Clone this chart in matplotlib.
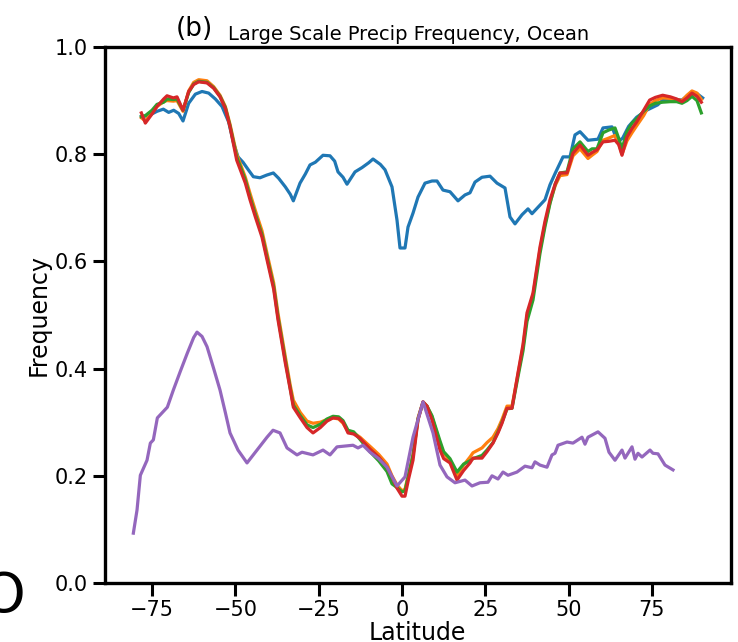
import matplotlib.pyplot as plt

plt.rcParams['font.family'] = ['DejaVu Sans']

# latitude grid used by the four model curves (blue has its own)
lat_mod = [-78.2, -77.0, -75.0, -73.5, -71.5, -70.5, -68.6, -67.5, -65.7, -64.0,
           -62.5, -61.0, -58.5, -56.5, -54.6, -53.0, -51.6, -49.6, -47.0, -45.6,
           -44.0, -42.0, -40.5, -38.5, -37.2, -35.0, -33.5, -32.6, -30.5, -28.5,
           -26.7, -24.5, -22.5, -20.7, -19.0, -17.7, -16.2, -14.5, -12.6, -9.6,
           -7.0, -4.5, -3.0, -1.5, 0.0, 0.9, 2.0, 3.3, 4.8, 6.3,
           7.5, 9.0, 11.4, 12.5, 14.4, 16.5, 18.5, 20.4, 21.3, 24.0,
           25.5, 27.3, 28.8, 30.0, 31.5, 33.0, 34.8, 36.3, 37.5, 39.3,
           41.4, 42.9, 44.4, 46.0, 47.4, 49.5, 51.3, 53.4, 55.8, 57.0,
           58.5, 60.3, 62.0, 63.9, 65.0, 66.0, 67.5, 69.0, 70.4, 72.5,
           74.3, 76.0, 78.2, 80.5, 82.4, 84.0, 85.5, 87.0, 88.5, 89.8]

red = [0.877, 0.858, 0.875, 0.889, 0.903, 0.909, 0.905, 0.907, 0.882, 0.917,
       0.930, 0.935, 0.933, 0.923, 0.907, 0.885, 0.851, 0.789, 0.746, 0.715,
       0.683, 0.645, 0.603, 0.548, 0.491, 0.410, 0.360, 0.328, 0.308, 0.290,
       0.280, 0.290, 0.302, 0.308, 0.307, 0.300, 0.280, 0.278, 0.270, 0.250,
       0.235, 0.216, 0.198, 0.177, 0.162, 0.162, 0.195, 0.229, 0.304, 0.338,
       0.330, 0.304, 0.248, 0.232, 0.224, 0.192, 0.210, 0.224, 0.233, 0.233,
       0.245, 0.261, 0.280, 0.298, 0.326, 0.326, 0.392, 0.445, 0.504, 0.541,
       0.627, 0.675, 0.715, 0.745, 0.765, 0.765, 0.802, 0.817, 0.798, 0.803,
       0.808, 0.823, 0.824, 0.826, 0.818, 0.798, 0.832, 0.848, 0.860, 0.882,
       0.901, 0.906, 0.910, 0.907, 0.903, 0.898, 0.905, 0.914, 0.908, 0.897]

orange = [0.868, 0.862, 0.878, 0.889, 0.898, 0.900, 0.899, 0.900, 0.880, 0.918,
          0.934, 0.939, 0.937, 0.926, 0.910, 0.889, 0.856, 0.800, 0.757, 0.727,
          0.695, 0.657, 0.615, 0.560, 0.503, 0.422, 0.368, 0.341, 0.318, 0.302,
          0.298, 0.300, 0.305, 0.308, 0.306, 0.298, 0.283, 0.280, 0.272, 0.255,
          0.240, 0.222, 0.200, 0.183, 0.172, 0.175, 0.205, 0.240, 0.308, 0.338,
          0.330, 0.310, 0.260, 0.242, 0.228, 0.200, 0.220, 0.235, 0.243, 0.252,
          0.262, 0.272, 0.288, 0.305, 0.330, 0.330, 0.390, 0.440, 0.498, 0.537,
          0.622, 0.670, 0.710, 0.742, 0.760, 0.762, 0.797, 0.810, 0.792, 0.798,
          0.805, 0.826, 0.830, 0.835, 0.820, 0.800, 0.825, 0.840, 0.853, 0.872,
          0.893, 0.900, 0.905, 0.904, 0.902, 0.900, 0.910, 0.918, 0.914, 0.902]

green = [0.870, 0.872, 0.882, 0.893, 0.897, 0.903, 0.902, 0.903, 0.882, 0.915,
         0.931, 0.936, 0.934, 0.924, 0.908, 0.887, 0.853, 0.795, 0.752, 0.720,
         0.688, 0.650, 0.608, 0.553, 0.496, 0.415, 0.362, 0.332, 0.312, 0.295,
         0.290, 0.296, 0.306, 0.311, 0.310, 0.303, 0.285, 0.282, 0.268, 0.245,
         0.228, 0.208, 0.185, 0.178, 0.170, 0.172, 0.202, 0.238, 0.306, 0.337,
         0.330, 0.312, 0.265, 0.245, 0.232, 0.207, 0.222, 0.228, 0.232, 0.238,
         0.248, 0.262, 0.282, 0.300, 0.325, 0.326, 0.385, 0.433, 0.488, 0.528,
         0.615, 0.665, 0.708, 0.745, 0.765, 0.767, 0.810, 0.823, 0.805, 0.810,
         0.810, 0.840, 0.845, 0.849, 0.830, 0.810, 0.842, 0.858, 0.866, 0.880,
         0.890, 0.895, 0.897, 0.898, 0.898, 0.895, 0.900, 0.908, 0.900, 0.877]

lat_blue = [-78.2, -76.0, -73.5, -71.6, -70.0, -68.5, -67.0, -65.7, -64.0, -62.0,
            -60.0, -58.0, -56.0, -54.0, -52.0, -50.5, -49.2, -47.7, -46.0, -44.6,
            -42.6, -40.6, -38.6, -37.0, -35.0, -33.5, -32.6, -30.6, -29.0, -27.6,
            -26.0, -23.7, -21.6, -20.2, -19.2, -17.7, -16.5, -14.1, -12.0, -10.0,
            -8.7, -6.5, -5.1, -3.0, -1.5, -0.6, 0.9, 1.8, 3.3, 4.8,
            6.9, 9.0, 10.5, 12.3, 14.4, 16.8, 18.9, 20.4, 21.9, 24.0,
            26.4, 28.5, 30.9, 32.4, 33.9, 36.0, 37.8, 39.0, 40.8, 42.9,
            44.4, 46.0, 48.3, 50.4, 51.9, 53.4, 55.8, 58.8, 60.3, 63.0,
            64.7, 66.2, 68.0, 70.4, 73.4, 76.7, 78.2, 81.0, 84.0, 87.0,
            88.5, 90.2]

blue = [0.870, 0.872, 0.880, 0.884, 0.878, 0.882, 0.876, 0.862, 0.895, 0.912,
        0.917, 0.914, 0.903, 0.889, 0.860, 0.820, 0.795, 0.785, 0.770, 0.758,
        0.756, 0.761, 0.765, 0.755, 0.739, 0.725, 0.713, 0.746, 0.763, 0.780,
        0.785, 0.798, 0.797, 0.787, 0.767, 0.757, 0.744, 0.767, 0.775, 0.784,
        0.791, 0.781, 0.771, 0.739, 0.677, 0.625, 0.625, 0.664, 0.690, 0.720,
        0.746, 0.750, 0.750, 0.733, 0.730, 0.713, 0.724, 0.728, 0.748, 0.757,
        0.759, 0.746, 0.737, 0.683, 0.670, 0.687, 0.698, 0.689, 0.701, 0.715,
        0.743, 0.765, 0.795, 0.795, 0.836, 0.842, 0.826, 0.828, 0.849, 0.851,
        0.823, 0.830, 0.852, 0.869, 0.882, 0.892, 0.901, 0.903, 0.901, 0.916,
        0.913, 0.905]

lat_purple = [-80.6, -79.5, -78.5, -76.5, -75.5, -74.6, -73.4, -70.4, -68.6, -66.5,
              -64.4, -62.5, -61.5, -60.0, -58.5, -56.5, -54.6, -53.0, -51.6, -49.2,
              -46.5, -43.5, -40.5, -38.7, -36.6, -34.5, -31.5, -30.0, -26.7, -23.7,
              -21.6, -19.5, -14.7, -13.2, -11.7, -9.6, -7.0, -4.5, -1.5, 0.9,
              3.3, 6.3, 9.3, 11.4, 13.5, 15.9, 18.9, 21.0, 23.4, 25.8,
              27.0, 28.8, 30.3, 31.8, 34.5, 36.9, 39.0, 39.9, 41.4, 43.5,
              45.0, 45.9, 46.8, 49.5, 51.3, 54.0, 54.9, 55.8, 58.8, 60.9,
              62.1, 63.9, 66.0, 66.9, 69.0, 69.9, 70.8, 72.0, 74.4, 75.3,
              76.8, 78.9, 81.3]

purple = [0.093, 0.136, 0.201, 0.229, 0.261, 0.267, 0.308, 0.328, 0.360, 0.395,
          0.429, 0.458, 0.468, 0.460, 0.441, 0.400, 0.360, 0.318, 0.280, 0.248,
          0.224, 0.248, 0.272, 0.285, 0.280, 0.252, 0.239, 0.244, 0.239, 0.248,
          0.239, 0.254, 0.257, 0.252, 0.257, 0.244, 0.232, 0.216, 0.181, 0.198,
          0.272, 0.338, 0.280, 0.220, 0.198, 0.187, 0.192, 0.181, 0.187, 0.188,
          0.200, 0.194, 0.207, 0.201, 0.207, 0.218, 0.215, 0.226, 0.220, 0.216,
          0.239, 0.242, 0.257, 0.263, 0.261, 0.272, 0.259, 0.272, 0.282, 0.270,
          0.244, 0.229, 0.248, 0.233, 0.254, 0.231, 0.242, 0.235, 0.248, 0.242,
          0.241, 0.220, 0.211]

fig = plt.figure(figsize=(7.38, 6.42), dpi=100)
ax = fig.add_axes([0.1423, 0.0919, 0.8482, 0.8349])

lw = 2.3
ax.plot(lat_blue, blue, color='C0', lw=lw)
ax.plot(lat_mod, orange, color='C1', lw=lw)
ax.plot(lat_mod, green, color='C2', lw=lw)
ax.plot(lat_mod, red, color='C3', lw=lw)
ax.plot(lat_purple, purple, color='C4', lw=lw)

ax.set_xlim(-89.1, 98.7)
ax.set_ylim(0, 1.0)
ax.set_xticks([-75, -50, -25, 0, 25, 50, 75])
ax.set_yticks([0.0, 0.2, 0.4, 0.6, 0.8, 1.0])
ax.tick_params(labelsize=15, length=9, width=2.2, pad=3.5)
for s in ax.spines.values():
    s.set_linewidth(2.4)

fig.text(417 / 738, 1 - 640 / 642, 'Latitude', fontsize=17, ha='center', va='baseline')
fig.text(39 / 738, 1 - 315 / 642, 'Frequency', fontsize=17, rotation=90,
         ha='center', va='center')

# panel title
fig.text(176 / 738, 1 - 36 / 642, '(b)', fontsize=19, ha='left', va='baseline')
fig.text(228 / 738, 1 - 40 / 642, 'Large Scale Precip Frequency, Ocean', fontsize=14,
         ha='left', va='baseline')

# clipped letter from neighbouring panel
fig.text(4 / 738, 1 - 612 / 642, 'O', fontsize=40, ha='center', va='baseline')

fig.savefig('out.png', dpi=100)
